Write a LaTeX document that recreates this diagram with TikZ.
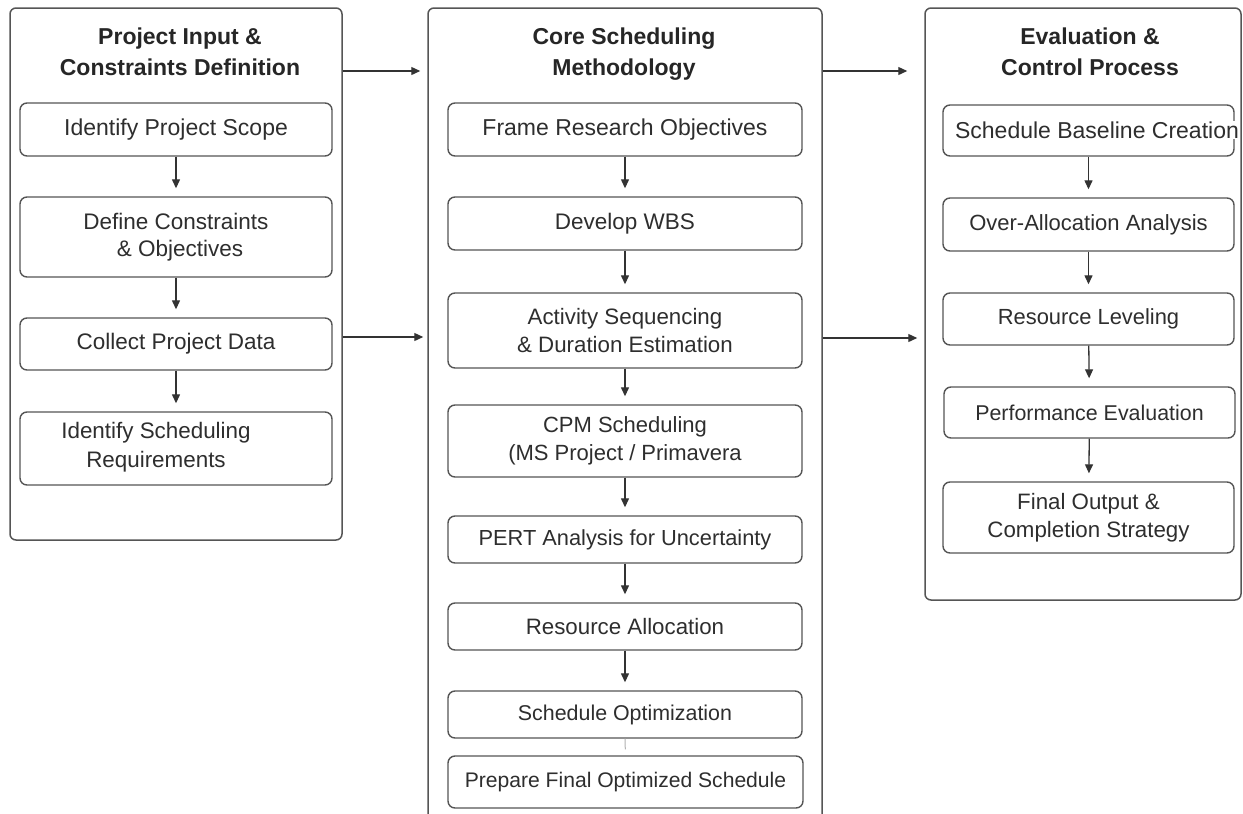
\documentclass[tikz,border=0pt]{standalone}
\usepackage{fontspec}
\setmainfont{Liberation Sans}
\usetikzlibrary{arrows.meta}
\definecolor{linec}{HTML}{555555}
\definecolor{txtc}{HTML}{2E2E2E}
\begin{document}
\begin{tikzpicture}[x=1pt,y=-1pt,
 panel/.style={draw=linec,line width=1.5pt,rounded corners=6pt,inner sep=0},
 stepbox/.style={draw=linec,line width=1.4pt,rounded corners=7pt,inner sep=0,align=center,text=txtc,font=\fontsize{23}{27.5}\selectfont},
 fsz/.style={font=\fontsize{#1}{27.5}\selectfont},
 ttl/.style={align=center,text=black!85,font=\bfseries\fontsize{23}{31}\selectfont,inner sep=0,anchor=north},
 lbl/.style={align=center,text=txtc,font=\fontsize{22.4}{29}\selectfont,inner sep=0},
 arr/.style={draw=black!80,line width=1.3pt,-{Triangle[length=9pt,width=8pt]}},
 vflow/.style={arr,shorten >=8pt}]
\clip (0,0) rectangle (1243,814);
\fill[white] (0,0) rectangle (1243,814);

% panels
\node[panel,minimum width=332pt,minimum height=532pt] (pL) at (176,274) {};
\node[panel,minimum width=394pt,minimum height=822pt] (pM) at (625,419) {};
\node[panel,minimum width=316pt,minimum height=592pt] (pR) at (1083,304) {};

% titles
\node[ttl] (tL) at (180,28) {Project Input \&\\Constraints Definition};
\node[ttl] (tM) at (624,28) {Core Scheduling\\Methodology};
\node[ttl] (tR) at (1090,28) {Evaluation \&\\Control Process};

% left boxes
\node[stepbox,minimum width=312pt,minimum height=53pt] (L1) at (176,129.5) {Identify Project Scope};
\node[stepbox,fsz=22.5,minimum width=312pt,minimum height=80pt] (L2) at (176,237) {Define Constraints\\\hspace*{8pt}\& Objectives};
\node[stepbox,fsz=22.5,minimum width=312pt,minimum height=52pt] (L3) at (176,344) {Collect Project Data};
\node[stepbox,minimum width=312pt,minimum height=73pt] (L4) at (176,448.5) {};
\node[lbl] (L4t) at (156,447) {Identify Scheduling\\Requirements};

% middle boxes
\node[stepbox,minimum width=354pt,minimum height=53pt] (M1) at (625,129.5) {Frame Research Objectives};
\node[stepbox,fsz=22.5,minimum width=354pt,minimum height=53pt] (M2) at (625,223.5) {Develop WBS};
\node[stepbox,fsz=22.3,minimum width=354pt,minimum height=75pt] (M3) at (625,330.5) {Activity Sequencing\\\& Duration Estimation};
\node[stepbox,fsz=22,minimum width=354pt,minimum height=72pt] (M4) at (625,441) {CPM Scheduling\\(MS Project / Primavera};
\node[stepbox,fsz=21.8,minimum width=354pt,minimum height=47pt] (M5) at (625,539.5) {PERT Analysis for Uncertainty};
\node[stepbox,fsz=22.3,minimum width=354pt,minimum height=47pt] (M6) at (625,626.5) {Resource Allocation};
\node[stepbox,fsz=21.4,minimum width=354pt,minimum height=47pt] (M7) at (625,714.5) {Schedule Optimization};
\node[stepbox,fsz=21.1,minimum width=355pt,minimum height=52pt] (M8) at (625.5,782) {Prepare Final Optimized Schedule};

% right boxes
\node[stepbox,minimum width=291pt,minimum height=51pt] (R1) at (1088.5,130.5) {};
\node[lbl,font=\fontsize{23}{29}\selectfont,fill=white,inner sep=1pt] (R1t) at (1097,130) {Schedule Baseline Creation};
\node[stepbox,fsz=22,minimum width=291pt,minimum height=53pt] (R2) at (1088.5,224.5) {Over-Allocation Analysis};
\node[stepbox,fsz=21.9,minimum width=291pt,minimum height=52pt] (R3) at (1088.5,319) {Resource Leveling};
\node[stepbox,fsz=21.4,minimum width=291pt,minimum height=51pt] (R4) at (1089.5,412.5) {Performance Evaluation};
\node[stepbox,fsz=22.3,minimum width=291pt,minimum height=71pt] (R5) at (1088.5,517.5) {Final Output \&\\Completion Strategy};

% vertical flows
\draw[vflow] (L1) -- (L2);
\draw[vflow] (L2) -- (L3);
\draw[vflow] (L3) -- (L4);
\draw[vflow] (M1) -- (M2);
\draw[vflow] (M2) -- (M3);
\draw[vflow] (M3) -- (M4);
\draw[vflow] (M4) -- (M5);
\draw[vflow] (M5) -- (M6);
\draw[vflow] (M6) -- (M7);
\draw[black!30,line width=1pt,shorten >=6pt] (M7) -- (M8);
\draw[vflow] (R1) -- (R2);
\draw[vflow] (R2) -- (R3);
\draw[vflow] (R3) -- (R4);
\draw[vflow] (R4) -- (R5);

% panel to panel
\draw[arr,shorten >=7pt] (pL.east |- 0,71) -- (pM.west |- 0,71);
\draw[arr,shorten >=4pt] (pL.east |- 0,337) -- (pM.west |- 0,337);
\draw[arr,shorten >=17pt] (pM.east |- 0,71) -- (pR.west |- 0,71);
\draw[arr,shorten >=7pt] (pM.east |- 0,338) -- (pR.west |- 0,338);
\end{tikzpicture}
\end{document}
